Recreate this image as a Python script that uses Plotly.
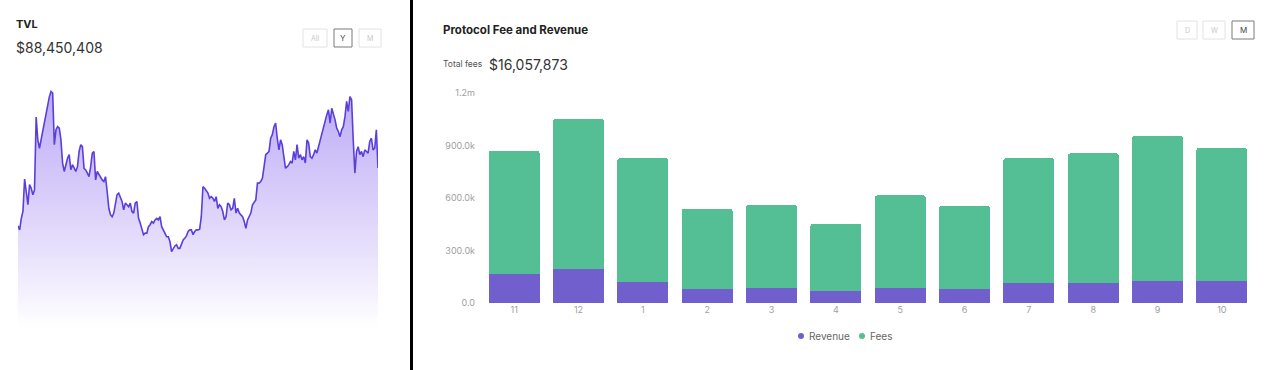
import plotly.graph_objects as go

# ---------------- data ----------------
tvl_musd = [
    74.0, 73.0, 75.9, 77.6, 85.7, 82.2, 79.3, 84.3, 83.4, 81.8, 83.0, 101.2, 95.5, 93.4, 95.5, 98.0,
    99.7, 102.6, 104.3, 106.3, 107.6, 107.2, 94.3, 98.0, 98.8, 98.4, 95.5, 89.7, 87.6, 89.7, 90.9, 91.8,
    88.0, 89.3, 88.4, 87.6, 88.8, 92.6, 94.3, 93.8, 88.4, 88.0, 87.2, 86.3, 88.8, 92.2, 92.6, 85.5,
    87.6, 86.8, 86.3, 85.5, 85.1, 86.3, 82.6, 78.4, 76.8, 76.3, 77.2, 79.7, 81.8, 82.2, 81.3, 80.1,
    78.0, 79.7, 79.3, 78.8, 79.7, 77.6, 77.2, 79.7, 80.1, 75.9, 74.7, 73.4, 71.8, 72.2, 72.2, 73.8,
    74.3, 75.1, 74.7, 75.5, 75.9, 75.5, 76.3, 73.8, 73.0, 71.8, 71.3, 71.3, 70.1, 67.6, 68.4, 69.0,
    69.3, 68.4, 68.4, 69.3, 70.5, 70.9, 71.5, 72.6, 73.0, 73.0, 71.8, 72.6, 73.0, 73.0, 73.2, 76.3,
    83.8, 83.4, 82.6, 82.2, 80.9, 81.3, 80.9, 80.1, 81.3, 78.4, 79.3, 78.8, 77.6, 75.5, 76.3, 79.7,
    79.3, 78.0, 78.4, 80.9, 77.2, 78.4, 77.2, 76.8, 76.3, 75.1, 73.4, 75.5, 76.3, 77.2, 79.3, 80.1,
    80.5, 84.7, 84.7, 85.1, 85.9, 88.8, 91.8, 92.2, 92.6, 95.9, 96.8, 98.8, 99.7, 95.9, 93.0, 95.5,
    94.3, 91.3, 88.4, 88.8, 89.3, 90.1, 89.7, 92.6, 90.5, 94.3, 90.9, 91.8, 90.5, 91.3, 89.7, 95.5,
    94.7, 91.3, 90.9, 91.8, 93.0, 92.2, 93.8, 95.5, 97.6, 98.8, 100.5, 101.8, 103.0, 99.7, 103.4, 102.2,
    100.5, 98.4, 97.6, 96.3, 98.0, 98.8, 101.3, 105.1, 102.6, 106.3, 105.5, 95.5, 87.2, 92.6, 93.8, 91.8,
    92.6, 91.3, 93.0, 92.6, 92.2, 95.1, 95.9, 93.0, 93.4, 98.0, 88.45,
]
tvl_index = list(range(len(tvl_musd)))

months = ["11", "12", "1", "2", "3", "4", "5", "6", "7", "8", "9", "10"]
revenue = [166000, 193000, 122000, 78000, 84000, 70000, 84000, 78000, 112000, 116000, 124000, 127000]
fees = [704000, 858000, 705000, 461000, 476000, 383000, 531000, 476000, 715000, 739000, 832000, 759000]

y_tickvals = [0, 300000, 600000, 900000, 1200000]
y_ticktext = ["0.0", "300.0k", "600.0k", "900.0k", "1.2m"]

# ---------------- style ----------------
W, H = 1280, 370
FONT = "Inter"
GREEN = "#54BE94"
PURPLE = "#715FCE"
LINE = "#5A3FDB"


def px(x):
    return x / W


def py(y):
    return 1 - y / H


fig = go.Figure()

# TVL area line
fig.add_trace(go.Scatter(
    x=tvl_index, y=tvl_musd, mode="lines",
    line=dict(color=LINE, width=1.6),
    fill="tozeroy",
    fillgradient=dict(type="vertical", start=48.5, stop=108,
                      colorscale=[[0, "rgba(255,255,255,1)"], [0.35, "rgba(230,222,252,1)"],
                                  [1, "rgba(188,170,246,1)"]]),
    xaxis="x", yaxis="y", showlegend=False, hoverinfo="skip",
))

# bars
fig.add_trace(go.Bar(x=months, y=revenue, marker=dict(color=PURPLE, line=dict(width=0)),
                     xaxis="x2", yaxis="y2", showlegend=False, name="Revenue"))
fig.add_trace(go.Bar(x=months, y=fees, marker=dict(color=GREEN, line=dict(width=0)),
                     xaxis="x2", yaxis="y2", showlegend=False, name="Fees"))

shapes = []


def box(x0, x1, y0, y1, color):
    shapes.append(dict(type="rect", xref="paper", yref="paper",
                       x0=px(x0), x1=px(x1), y0=py(y1), y1=py(y0),
                       line=dict(color=color, width=1), fillcolor="rgba(0,0,0,0)"))


def dot(cx, cy, r, color):
    shapes.append(dict(type="circle", xref="paper", yref="paper",
                       x0=px(cx - r), x1=px(cx + r), y0=py(cy + r), y1=py(cy - r),
                       line=dict(width=0), fillcolor=color))


box(303, 327, 29, 47, "#E2E2E2")
box(334, 352, 29, 47, "#7A7A7A")
box(359, 381, 29, 47, "#E2E2E2")
box(1177, 1197, 21, 39, "#E2E2E2")
box(1203, 1225, 21, 39, "#E2E2E2")
box(1232, 1254, 21, 39, "#7A7A7A")

# divider
shapes.append(dict(type="line", xref="paper", yref="paper", x0=px(411.5), x1=px(411.5),
                   y0=0, y1=1, line=dict(color="#000000", width=3)))

# legend dots
dot(801, 336, 3, PURPLE)
dot(862, 336, 3, GREEN)

annotations = []


def text(x, y, s, size, color, anchor="left", weight=None):
    t = s if weight is None else "<b>%s</b>" % s
    annotations.append(dict(xref="paper", yref="paper", x=px(x), y=py(y), text=t,
                            showarrow=False, xanchor=anchor, yanchor="middle",
                            font=dict(family=FONT, size=size, color=color)))


text(14, 24, "TVL", 11, "#222222", weight=True)
text(14, 47, "$88,450,408", 14, "#333333")
text(315, 38, "All", 7, "#C8C8C8", anchor="center")
text(343, 38, "Y", 8, "#444444", anchor="center")
text(370, 38, "M", 7, "#C8C8C8", anchor="center")

text(441, 30, "Protocol Fee and Revenue", 11.5, "#222222", weight=True)
text(441, 64, "Total fees", 8.5, "#555555")
text(487, 64, "$16,057,873", 14, "#333333")
text(1187, 30, "D", 7, "#C8C8C8", anchor="center")
text(1214, 30, "W", 7, "#C8C8C8", anchor="center")
text(1243, 30, "M", 8, "#444444", anchor="center")

# legend labels
text(807, 336, "Revenue", 10, "#666666")
text(868, 336, "Fees", 10, "#666666")

fig.update_layout(
    width=W, height=H, autosize=False,
    margin=dict(l=0, r=0, t=0, b=0, pad=0, autoexpand=False),
    paper_bgcolor="white", plot_bgcolor="white",
    font=dict(family=FONT, color="#999999", size=9),
    barmode="stack", bargap=0.207, barcornerradius=3,
    showlegend=False,
    xaxis=dict(domain=[px(18), px(378)], range=[0, len(tvl_musd) - 1], visible=False,
               automargin=False),
    yaxis=dict(domain=[py(328), py(85)], range=[48.5, 109.2], visible=False, automargin=False),
    xaxis2=dict(domain=[px(482), px(1254)], type="category", showgrid=False, zeroline=False,
                showline=False, ticks="", anchor="y2", automargin=False,
                tickfont=dict(family=FONT, size=9, color="#A0A0A0")),
    yaxis2=dict(domain=[py(303), py(93)], range=[0, 1200000], showgrid=False, zeroline=False,
                showline=False, ticks="", anchor="x2", tickvals=y_tickvals, ticktext=y_ticktext,
                ticklabelstandoff=6, automargin=False,
                tickfont=dict(family=FONT, size=9, color="#A0A0A0")),
    shapes=shapes, annotations=annotations,
)

fig.write_html("out.html", config={"displayModeBar": False},
               post_script="document.body.style.margin='0px';")
